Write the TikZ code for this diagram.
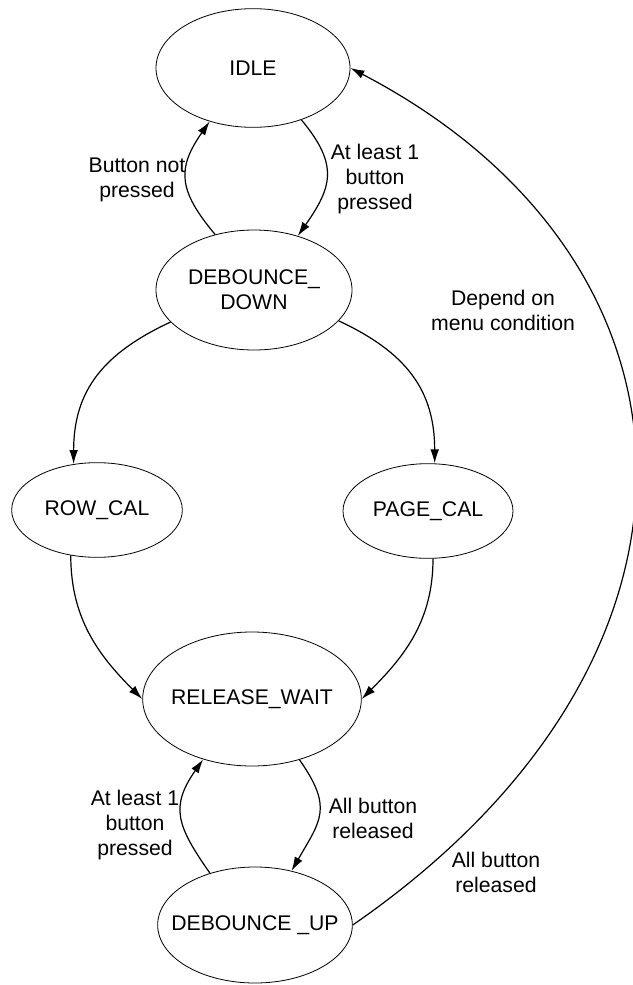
\documentclass[tikz,border=0pt]{standalone}
\usepackage{fontspec}
\setmainfont{Liberation Sans}
\usetikzlibrary{shapes.geometric,arrows.meta}

\tikzset{
	state/.style={draw, ellipse, line width=0.6pt, inner sep=0pt, align=center,
		font=\fontsize{15.9}{18.8}\selectfont},
	cond/.style={inner sep=0pt, align=center, font=\fontsize{15.9}{18.8}\selectfont},
	trans/.style={-{Latex[length=10.5pt,width=6.5pt]}, line width=0.9pt},
}

\begin{document}
\begin{tikzpicture}[x=0.75pt,y=0.75pt]
		\useasboundingbox (0,0) rectangle (632,-985);

		% states
		\node[state, minimum width=145.5pt, minimum height=89pt] (idle) at (253,-68) {IDLE};
		\node[state, minimum width=147pt, minimum height=90pt] (ddown) at (254,-290) {DEBOUNCE\_\\DOWN};
		\node[state, minimum width=128pt, minimum height=71pt] (rowcal) at (97,-510) {ROW\_CAL};
		\node[state, minimum width=127.5pt, minimum height=71pt] (pagecal) at (428,-511) {PAGE\_CAL};
		\node[state, inner xsep=-4pt, minimum width=164pt, minimum height=100.5pt] (rwait) at (252,-699) {RELEASE\_WAIT};
		\node[state, inner xsep=-12pt, minimum width=146pt, minimum height=87pt] (dup) at (255,-925) {DEBOUNCE \_UP};

		% conditions
		\node[cond] (notpressed) at (137,-180) {Button not\\pressed};
		\node[cond] (pressedtop) at (375,-179) {At least 1\\button\\pressed};
		\node[cond] (menucond) at (503,-310) {Depend on\\menu condition};
		\node[cond] (pressedbot) at (135,-825) {At least 1\\button\\pressed};
		\node[cond] (releasedmid) at (373,-818) {All button\\released};
		\node[cond] (releasedout) at (496,-872) {All button\\released};

		% transitions
		\draw[trans] (idle.-47) to[out=-50, in=55, looseness=1.3] (ddown.51);
		\draw[trans] (ddown.125) to[out=130, in=-125, looseness=1.3] (idle.231);
		\draw[trans] (ddown.201) to[out=205, in=90, looseness=1.1] (rowcal.117);
		\draw[trans] (ddown.-20) to[out=-25, in=90, looseness=1.1] (pagecal.82);
		\draw[trans] (rowcal.240) to[out=-90, in=135] (rwait.180);
		\draw[trans] (pagecal.-84) to[out=-90, in=45] (rwait.0);
		\draw[trans] (rwait.-52) to[out=-55, in=60, looseness=1.35] (dup.56);
		\draw[trans] (dup.131) to[out=125, in=-125, looseness=1.3] (rwait.231);
		\draw[trans] (dup.east) .. controls +(388,268) and +(368,-192) .. (idle.east);

	\end{tikzpicture}
\end{document}
